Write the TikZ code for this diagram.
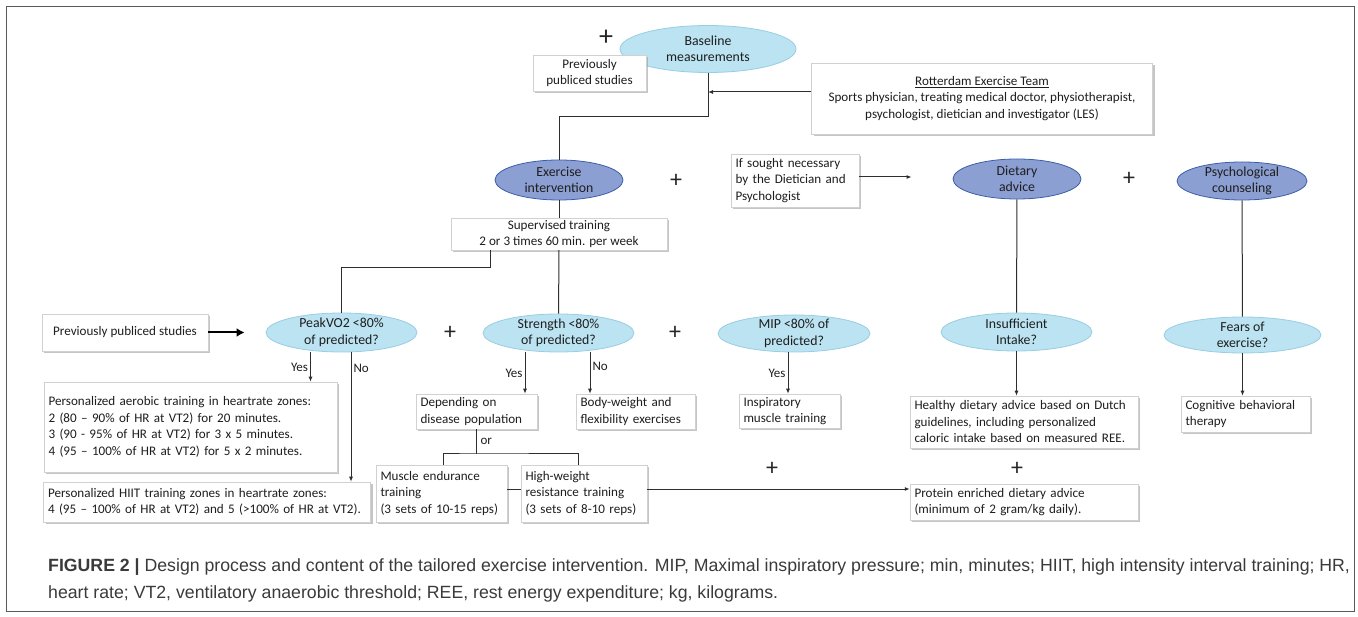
\documentclass[tikz,border=0pt]{standalone}
\usepackage{fontspec}
\setmainfont{Carlito}
\newfontfamily\capfont{Liberation Sans}
\usetikzlibrary{shapes.geometric,arrows.meta,shadows}
\definecolor{lightfill}{HTML}{BBE3F2}
\definecolor{lightline}{HTML}{98CDE3}
\definecolor{darkfill}{HTML}{8C9FD3}
\definecolor{darkline}{HTML}{3A5FA8}
\definecolor{inkgray}{HTML}{1E1E1E}
\definecolor{capgray}{HTML}{3A3A3A}
\tikzset{
  ell/.style={ellipse, inner sep=-4pt, align=center, font=\fontsize{13.8}{16.5}\selectfont, text=inkgray},
  lightell/.style={ell, fill=lightfill, draw=lightline, line width=0.8pt},
  darkell/.style={ell, fill=darkfill, draw=darkline, line width=0.8pt},
  box/.style={rectangle, fill=white, draw=black!18, line width=0.5pt, inner xsep=4.5pt, inner ysep=2pt,
    align=center, font=\fontsize{13.1}{16.5}\selectfont, text=inkgray,
    drop shadow={shadow xshift=2pt, shadow yshift=-2pt, fill=black!45, opacity=.5}},
  leftbox/.style={box, align=left},
  conn/.style={draw=black!82, line width=1pt},
  arr/.style={conn, -{Latex[length=5pt,width=4pt]}},
  bigarr/.style={draw=black, line width=2pt, -{Latex[length=8pt,width=9pt]}},
  plus/.style={inner sep=0pt, font=\fontsize{24}{24}\selectfont, text=black!85},
  lbl/.style={inner sep=2pt, font=\fontsize{13}{15}\selectfont, text=inkgray},
}
\begin{document}
\begin{tikzpicture}[x=1pt,y=-1pt]
\useasboundingbox (0,0) rectangle (1358,617);
\draw[black!65, line width=1pt] (6,7) rectangle (1354,611);

\node[lightell, minimum width=176pt, minimum height=47pt] (base) at (708,49) {Baseline\\measurements};
\node[plus, font=\fontsize{28}{28}\selectfont] (plustop) at (606,38) {+};
\node[box, minimum width=113pt, minimum height=36pt] (prevtop) at (589.5,73) {Previously\\publiced studies};
\node[box, minimum width=341pt, minimum height=71pt] (team) at (982,98.5) {\underline{Rotterdam Exercise Team}\\Sports physician, treating medical doctor, physiotherapist,\\psychologist, dietician and investigator (LES)};

\node[darkell, minimum width=128pt, minimum height=40pt] (exer) at (559,180) {Exercise\\intervention};
\node[plus] (plusA) at (676,181) {+};
\node[leftbox, text width=119pt, minimum height=53pt] (sought) at (795,180.5) {If sought necessary\\by the Dietician and\\Psychologist};
\node[darkell, minimum width=128pt, minimum height=40pt] (diet) at (1017,179) {Dietary\\advice};
\node[plus] (plusB) at (1129,179) {+};
\node[darkell, minimum width=130pt, minimum height=38pt] (psych) at (1242,181) {Psychological\\counseling};
\node[box, minimum width=216pt, minimum height=32pt] (superv) at (559,234) {Supervised training\\2 or 3 times 60 min. per week};

\node[box, minimum width=166pt, minimum height=37pt] (prevleft) at (125,332.5) {Previously publiced studies};
\node[lightell, minimum width=151pt, minimum height=39pt] (peak) at (341.5,332.5) {PeakVO2 <80\%\\of predicted?};
\node[plus] (plusC) at (450,333) {+};
\node[lightell, minimum width=151pt, minimum height=38pt] (strength) at (558.5,333) {Strength <80\%\\of predicted?};
\node[plus] (plusD) at (675,333) {+};
\node[lightell, minimum width=152pt, minimum height=37pt] (mip) at (794,333.5) {MIP <80\% of\\predicted?};
\node[lightell, minimum width=151pt, minimum height=38pt] (insuff) at (1016.5,332) {Insufficient\\Intake?};
\node[lightell, minimum width=157pt, minimum height=36pt] (fears) at (1242.5,335) {Fears of\\exercise?};

\node[leftbox, text width=284pt, minimum height=90pt] (aerobic) at (190.5,427) {Personalized aerobic training in heartrate zones:\\2 (80 -- 90\% of HR at VT2) for 20 minutes.\\3 (90 - 95\% of HR at VT2) for 3 x 5 minutes.\\4 (95 -- 100\% of HR at VT2) for 5 x 2 minutes.};
\node[leftbox, text width=318pt, minimum height=40pt] (hiit) at (207,502) {Personalized HIIT training zones in heartrate zones:\\4 (95 -- 100\% of HR at VT2) and 5 (>100\% of HR at VT2).};
\node[leftbox, text width=112pt, minimum height=35pt] (depend) at (476.5,411.5) {Depending on\\disease population};
\node[leftbox, text width=110pt, minimum height=35pt] (body) at (635.5,411.5) {Body-weight and\\flexibility exercises};
\node[leftbox, text width=92pt, minimum height=34pt] (insp) at (789.5,411) {Inspiratory\\muscle training};
\node[leftbox, text width=219pt, minimum height=52pt] (healthy) at (1024,422) {Healthy dietary advice based on Dutch\\guidelines, including personalized\\caloric intake based on measured REE.};
\node[leftbox, text width=120pt, minimum height=36pt] (cogn) at (1245.5,414) {Cognitive behavioral\\therapy};
\node[leftbox, text width=122pt, minimum height=57pt] (muscle) at (441.5,493.5) {Muscle endurance\\training\\(3 sets of 10-15 reps)};
\node[leftbox, text width=117pt, minimum height=57pt] (highw) at (584,493.5) {High-weight\\resistance training\\(3 sets of 8-10 reps)};
\node[plus] (plusE) at (772,469) {+};
\node[plus] (plusF) at (1017,469) {+};
\node[leftbox, text width=219pt, minimum height=36pt] (protein) at (1024,502) {Protein enriched dietary advice\\(minimum of 2 gram/kg daily).};

\coordinate (bendA) at (708,117);
\coordinate (teamin) at (708,92);
\coordinate (bendB) at (490,268);
\coordinate (orsplit) at (476,454);

\draw[conn] (base) -- (bendA) -| (exer);
\draw[arr] (team.west |- teamin) -- (teamin);
\draw[conn] (exer) -- (superv);
\draw[conn] (superv) -- (strength);
\draw[conn] (superv.south -| bendB) -- (bendB) -| (peak);
\draw[bigarr, shorten >=21pt] (prevleft) -- (peak);
\draw[arr] ([xshift=-31pt]peak.south) -- ([xshift=-31pt]peak.south |- aerobic.north) node[lbl, midway, left] {Yes};
\draw[arr] ([xshift=9.5pt]peak.south) -- ([xshift=9.5pt]peak.south |- hiit.north) node[lbl, pos=.12, right] {No};
\draw[arr] ([xshift=-33.5pt]strength.south) -- ([xshift=-33.5pt]strength.south |- depend.north) node[lbl, midway, left] {Yes};
\draw[arr] ([xshift=31.5pt]strength.south) -- ([xshift=31.5pt]strength.south |- body.north) node[lbl, pos=.35, right] {No};
\draw[conn] (depend.south -| orsplit) -- (orsplit) node[lbl, midway, right, xshift=2pt] {or};
\draw[conn] ([xshift=2pt]muscle.north) |- (orsplit) -| ([xshift=-6pt]highw.north);
\draw[conn] ([yshift=4.5pt]muscle.east) -- ([yshift=4.5pt]muscle.east -| highw.west);
\draw[arr] ([yshift=4.5pt]highw.east) -- ([yshift=4.5pt]highw.east -| protein.west);
\draw[arr] ([xshift=-6pt]mip.south) -- ([xshift=-6pt]mip.south |- insp.north) node[lbl, midway, left] {Yes};
\draw[arr, shorten >=41pt] ([yshift=3.5pt]sought.east) -- ([yshift=3.5pt]sought.east -| diet.west);
\draw[conn] (diet) -- (insuff);
\draw[arr] (insuff.south) -- (insuff.south |- healthy.north);
\draw[conn] (psych) -- (fears);
\draw[arr] (fears.south) -- (fears.south |- cogn.north);

\node[anchor=base west, inner sep=0pt, font=\capfont\fontsize{17.7}{20}\selectfont, text=capgray] (caption) at (48,571) {\textbf{FIGURE 2 |} Design process and content of the tailored exercise intervention. MIP, Maximal inspiratory pressure; min, minutes; HIIT, high intensity interval training; HR,};
\node[anchor=base west, inner sep=0pt, font=\capfont\fontsize{17.7}{20}\selectfont, text=capgray] (captionb) at (48,598) {heart rate; VT2, ventilatory anaerobic threshold; REE, rest energy expenditure; kg, kilograms.};
\end{tikzpicture}
\end{document}
